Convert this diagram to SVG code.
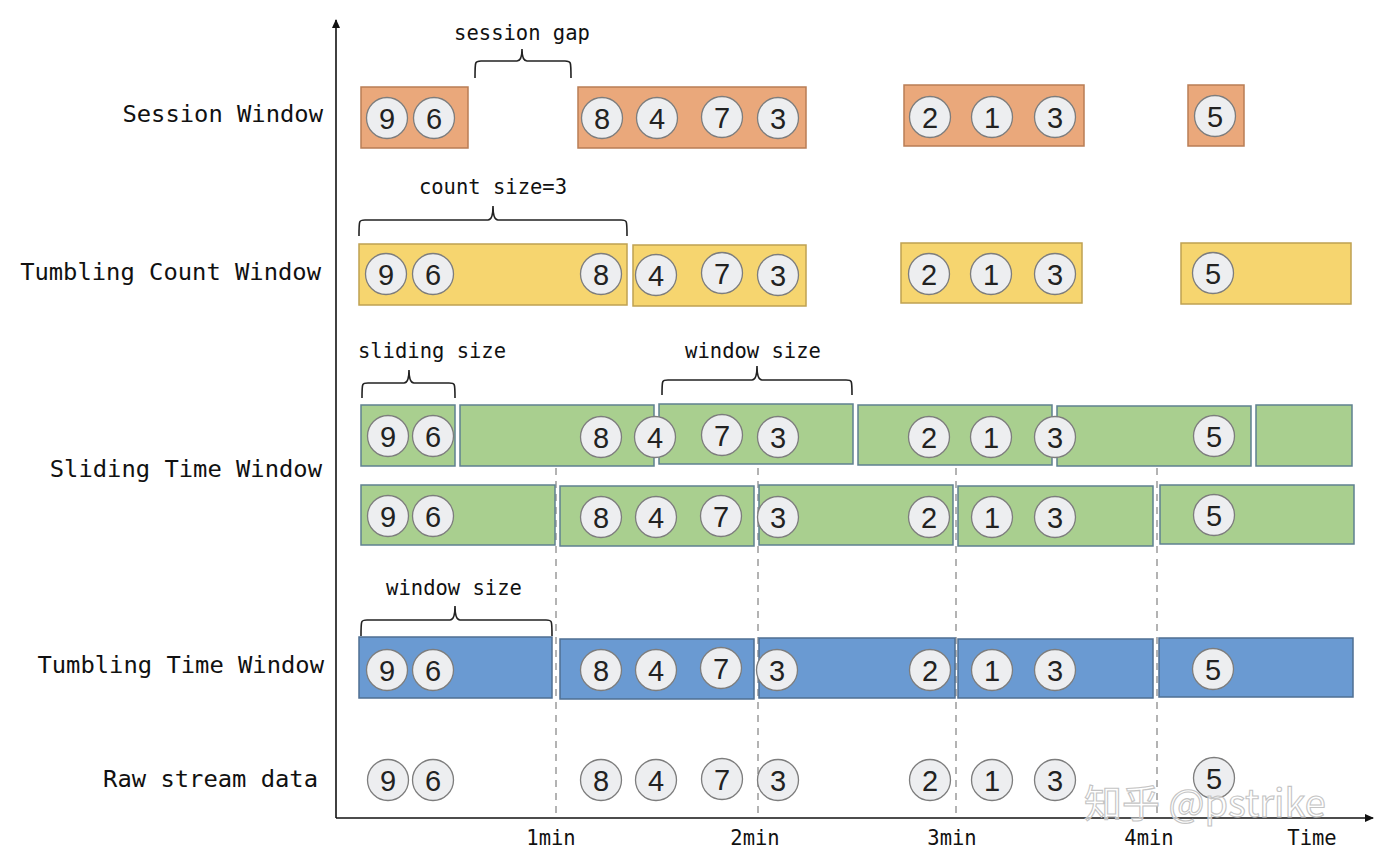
<svg xmlns="http://www.w3.org/2000/svg" width="1381" height="853" viewBox="0 0 1381 853">
<defs>
<style>
.lbl{font-family:"DejaVu Sans Mono","Liberation Mono",monospace;font-size:23.8px;fill:#111;text-anchor:end}
.ann{font-family:"DejaVu Sans Mono","Liberation Mono",monospace;font-size:20.5px;fill:#111;text-anchor:middle}
.tick{font-family:"DejaVu Sans Mono","Liberation Mono",monospace;font-size:20.5px;fill:#111;text-anchor:middle}
.ses{fill:#EAA87B;stroke:#B97D55;stroke-width:1.5}
.cnt{fill:#F6D56F;stroke:#BFA152;stroke-width:1.5}
.sld{fill:#A9CF8F;stroke:#5F8190;stroke-width:1.5}
.tmb{fill:#6A9AD2;stroke:#4F6F92;stroke-width:1.5}
.dc{fill:#EDEEF0;stroke:#7d7d7d;stroke-width:1.3}
.dt{font-family:"Liberation Sans",Arial,sans-serif;font-size:29px;fill:#222;text-anchor:middle}
.brace{fill:none;stroke:#222;stroke-width:1.6}
.dash{stroke:#9a9a9a;stroke-width:1.5;stroke-dasharray:7 6}
.wm{font-family:"Noto Sans CJK SC","Liberation Sans",sans-serif;font-size:38px;fill:#ffffff;fill-opacity:0.6;stroke:#c4c4c4;stroke-width:1.1}
</style>
<marker id="arr" markerWidth="10" markerHeight="10" refX="8" refY="5" orient="auto" markerUnits="userSpaceOnUse">
<path d="M0,1 L9,5 L0,9 z" fill="#111"/>
</marker>
<g id="n9"><circle class="dc" r="20.5"/><text class="dt" y="10.5">9</text></g>
<g id="n6"><circle class="dc" r="20.5"/><text class="dt" y="10.5">6</text></g>
<g id="n8"><circle class="dc" r="20.5"/><text class="dt" y="10.5">8</text></g>
<g id="n4"><circle class="dc" r="20.5"/><text class="dt" y="10.5">4</text></g>
<g id="n7"><circle class="dc" r="20.5"/><text class="dt" y="10.5">7</text></g>
<g id="n3"><circle class="dc" r="20.5"/><text class="dt" y="10.5">3</text></g>
<g id="n2"><circle class="dc" r="20.5"/><text class="dt" y="10.5">2</text></g>
<g id="n1"><circle class="dc" r="20.5"/><text class="dt" y="10.5">1</text></g>
<g id="n5"><circle class="dc" r="20.5"/><text class="dt" y="10.5">5</text></g>
</defs>
<rect width="1381" height="853" fill="#ffffff"/>

<g id="labels">
<text class="lbl" x="323" y="122">Session Window</text>
<text class="lbl" x="321" y="280">Tumbling Count Window</text>
<text class="lbl" x="322" y="477">Sliding Time Window</text>
<text class="lbl" x="324" y="673">Tumbling Time Window</text>
<text class="lbl" x="318" y="787">Raw stream data</text>
</g>

<g id="connectors">
<line class="dash" x1="556" y1="468" x2="556" y2="818"/>
<line class="dash" x1="758" y1="468" x2="758" y2="818"/>
<line class="dash" x1="956" y1="468" x2="956" y2="818"/>
<line class="dash" x1="1157" y1="468" x2="1157" y2="818"/>
<line x1="336" y1="818" x2="336" y2="20" stroke="#111" stroke-width="1.6" marker-end="url(#arr)"/>
<line x1="336" y1="818" x2="1373" y2="818" stroke="#111" stroke-width="1.6" marker-end="url(#arr)"/>
</g>

<g id="axis-ticks">
<text class="tick" x="551" y="845">1min</text>
<text class="tick" x="755" y="845">2min</text>
<text class="tick" x="952" y="845">3min</text>
<text class="tick" x="1149" y="845">4min</text>
<text class="tick" x="1312" y="845">Time</text>
</g>

<g id="session-window">
<rect class="ses" x="361" y="87" width="107" height="61"/>
<rect class="ses" x="578" y="87" width="228" height="61"/>
<rect class="ses" x="904" y="85" width="180" height="61"/>
<rect class="ses" x="1188" y="85" width="56" height="61"/>
<use href="#n9" x="387" y="118"/><use href="#n6" x="434" y="118"/>
<use href="#n8" x="602" y="118"/><use href="#n4" x="657" y="118"/><use href="#n7" x="722" y="117"/><use href="#n3" x="778" y="118"/>
<use href="#n2" x="930" y="117"/><use href="#n1" x="992" y="117"/><use href="#n3" x="1055" y="117"/>
<use href="#n5" x="1215" y="116"/>
<path class="brace" d="M475,78 C475,61 475,61 481,61 H517 Q522,61 522,49 Q522,61 527,61 H565 C571,61 571,61 571,78"/>
<text class="ann" x="522" y="40">session gap</text>
</g>

<g id="tumbling-count-window">
<rect class="cnt" x="359" y="244" width="268" height="61"/>
<rect class="cnt" x="633" y="245" width="173" height="61"/>
<rect class="cnt" x="901" y="243" width="181" height="60"/>
<rect class="cnt" x="1181" y="243" width="170" height="61"/>
<use href="#n9" x="386" y="274"/><use href="#n6" x="433" y="274"/><use href="#n8" x="601" y="274"/>
<use href="#n4" x="656" y="275"/><use href="#n7" x="722" y="273"/><use href="#n3" x="778" y="275"/>
<use href="#n2" x="929" y="274"/><use href="#n1" x="991" y="274"/><use href="#n3" x="1055" y="274"/>
<use href="#n5" x="1213" y="273"/>
<path class="brace" d="M359,236 C359,220 359,220 365,220 H488 Q493,220 493,206 Q493,220 498,220 H621 C627,220 627,220 627,236"/>
<text class="ann" x="493" y="194">count size=3</text>
</g>

<g id="sliding-time-window">
<rect class="sld" x="361" y="405" width="94" height="61"/>
<rect class="sld" x="460" y="405" width="194" height="61"/>
<rect class="sld" x="659" y="404" width="194" height="60"/>
<rect class="sld" x="858" y="405" width="194" height="60"/>
<rect class="sld" x="1057" y="406" width="194" height="60"/>
<rect class="sld" x="1256" y="405" width="96" height="61"/>
<rect class="sld" x="361" y="485" width="194" height="60"/>
<rect class="sld" x="560" y="486" width="194" height="60"/>
<rect class="sld" x="759" y="485" width="194" height="60"/>
<rect class="sld" x="958" y="486" width="195" height="60"/>
<rect class="sld" x="1160" y="485" width="194" height="59"/>
<use href="#n9" x="388" y="436"/><use href="#n6" x="433" y="436"/><use href="#n8" x="601" y="437"/>
<use href="#n4" x="655" y="437"/><use href="#n7" x="722" y="435"/><use href="#n3" x="778" y="437"/>
<use href="#n2" x="929" y="437"/><use href="#n1" x="991" y="437"/><use href="#n3" x="1055" y="437"/>
<use href="#n5" x="1214" y="436"/>
<use href="#n9" x="388" y="516"/><use href="#n6" x="433" y="516"/><use href="#n8" x="601" y="517"/>
<use href="#n4" x="656" y="517"/><use href="#n7" x="721" y="516"/><use href="#n3" x="778" y="517"/>
<use href="#n2" x="929" y="517"/><use href="#n1" x="992" y="517"/><use href="#n3" x="1055" y="517"/>
<use href="#n5" x="1214" y="515"/>
<path class="brace" d="M362,398 C362,383 362,383 368,383 H404 Q409,383 409,370 Q409,383 414,383 H449 C455,383 455,383 455,398"/>
<text class="ann" x="432" y="358">sliding size</text>
<path class="brace" d="M662,395 C662,380 662,380 668,380 H752 Q757,380 757,366 Q757,380 762,380 H846 C852,380 852,380 852,395"/>
<text class="ann" x="753" y="358">window size</text>
</g>

<g id="tumbling-time-window">
<rect class="tmb" x="359" y="637" width="193" height="61"/>
<rect class="tmb" x="560" y="639" width="194" height="60"/>
<rect class="tmb" x="759" y="638" width="196" height="60"/>
<rect class="tmb" x="958" y="639" width="195" height="59"/>
<rect class="tmb" x="1159" y="638" width="194" height="59"/>
<use href="#n9" x="387" y="670"/><use href="#n6" x="433" y="670"/><use href="#n8" x="601" y="670"/>
<use href="#n4" x="656" y="670"/><use href="#n7" x="721" y="668"/><use href="#n3" x="777" y="670"/>
<use href="#n2" x="930" y="670"/><use href="#n1" x="992" y="670"/><use href="#n3" x="1055" y="670"/>
<use href="#n5" x="1213" y="669"/>
<path class="brace" d="M361,636 C361,620 361,620 367,620 H450 Q455,620 455,606 Q455,620 460,620 H546 C552,620 552,620 552,636"/>
<text class="ann" x="454" y="595">window size</text>
</g>

<g id="raw-stream-data">
<use href="#n9" x="388" y="780"/><use href="#n6" x="433" y="780"/><use href="#n8" x="601" y="780"/>
<use href="#n4" x="656" y="780"/><use href="#n7" x="722" y="779"/><use href="#n3" x="778" y="780"/>
<use href="#n2" x="930" y="780"/><use href="#n1" x="992" y="780"/><use href="#n3" x="1055" y="780"/>
<use href="#n5" x="1214" y="778"/>
</g>

<g id="watermark">
<text class="wm" x="1084" y="817">知乎 @pstrike</text>
</g>
</svg>
